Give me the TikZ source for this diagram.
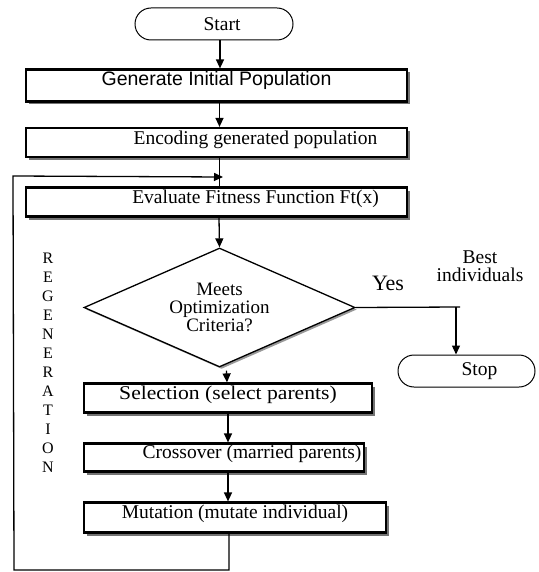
\documentclass[tikz,border=0pt]{standalone}
\usepackage{fontspec}
\setmainfont{Liberation Serif}
\newfontfamily\arialf{Liberation Sans}
\usetikzlibrary{arrows.meta,shapes.geometric,shadows}
\begin{document}
\begin{tikzpicture}[x=1pt,y=-1pt,
  box/.style={draw, line width=2.2pt, fill=white, inner sep=0pt,
    drop shadow={shadow xshift=3pt, shadow yshift=-3pt, fill=black!55, opacity=1}},
  term/.style={draw, line width=1pt, rounded corners=16pt, inner sep=0pt, fill=white},
  txt/.style={font=\fontsize{19.5}{22}\selectfont, inner sep=0pt},
  arr/.style={line width=1.3pt, -{Triangle[length=9pt,width=8pt]}},
  conn/.style={line width=1.3pt}]
\useasboundingbox (0,0) rectangle (538,572);

% terminators
\node[term, minimum width=158pt, minimum height=32pt,
  label={[txt, xshift=8pt]center:Start}] (start) at (214,24) {};
\node[term, minimum width=137pt, minimum height=32pt,
  label={[txt, xshift=13pt]center:Stop}] (stop) at (466.5,371) {};

% process boxes
\node[box, minimum width=381pt, minimum height=32pt,
  label={[txt, font=\arialf\fontsize{19.5}{22}\selectfont, yshift=5pt]center:Generate Initial Population}] (b1) at (216.5,85.5) {};
\node[box, minimum width=381pt, minimum height=29pt,
  label={[txt, xshift=39pt, yshift=3pt]center:Encoding generated population}] (b2) at (216.5,142.5) {};
\node[box, minimum width=381pt, minimum height=29pt,
  label={[txt, xshift=39pt, yshift=3pt]center:Evaluate Fitness Function Ft(x)}] (b3) at (216.5,202) {};

% decision
\node[draw, diamond, aspect=2.28, line width=1.3pt, fill=white, inner sep=0pt,
  minimum width=271pt, minimum height=119pt, align=center,
  font=\fontsize{19}{18}\selectfont,
  drop shadow={shadow xshift=2pt, shadow yshift=-2pt, fill=black!40, opacity=1}] (dia) at (219.5,307.5)
  {Meets\\Optimization\\Criteria?};

% GA operators
\node[box, minimum width=288pt, minimum height=29pt,
  label={[txt, yshift=3pt]center:\scalebox{1.11}[1]{Selection (select parents)}}] (sel) at (228,398) {};
\node[box, minimum width=280pt, minimum height=28pt,
  label={[txt, xshift=28pt, yshift=4pt]center:Crossover (married parents)}] (cro) at (224,457.5) {};
\node[box, minimum width=302pt, minimum height=30pt,
  label={[txt, yshift=4pt]center:Mutation (mutate individual)}] (mut) at (235,517.5) {};

% free texts
\node[font=\fontsize{22}{24}\selectfont, inner sep=0pt] (yes) at (388,283) {Yes};
\node[txt, align=center, font=\fontsize{19.5}{18}\selectfont] (best) at (480,266) {Best\\individuals};
\node[align=center, inner sep=0pt, font=\fontsize{16}{19}\selectfont] (regen) at (48,362.5)
  {R\\E\\G\\E\\N\\E\\R\\A\\T\\I\\O\\N};

% coordinates for connectors
\coordinate (ye) at (460,307);
\coordinate (yj) at (456,307);
\coordinate (lb) at (229,570);
\coordinate (ll) at (14,570);
\coordinate (lt) at (13,176);
\coordinate (le) at (223,177);

% connectors
\draw[arr] ([xshift=6pt]start.south) -- ([xshift=3.5pt]b1.north);
\draw[arr] ([xshift=3pt]b1.south) -- ([xshift=3pt]b2.north);
\draw[conn] ([xshift=3pt]b2.south) -- ([xshift=3pt]b3.north);
\draw[arr] ([xshift=2.5pt]b3.south) -- (dia.north);
\draw[arr] ([xshift=7pt,yshift=-3pt]dia.south) -- ([xshift=-1pt]sel.north);
\draw[arr] (sel.south) -- ([xshift=4pt]cro.north);
\draw[arr] ([xshift=4pt]cro.south) -- ([xshift=-7pt]mut.north);
\draw[conn] (dia.east) -- (ye);
\draw[arr] (yj) -- (yj |- stop.north);
\draw[arr] ([xshift=-6pt]mut.south) -- (lb) -- (ll) -- (lt) -- (le);
\end{tikzpicture}
\end{document}
